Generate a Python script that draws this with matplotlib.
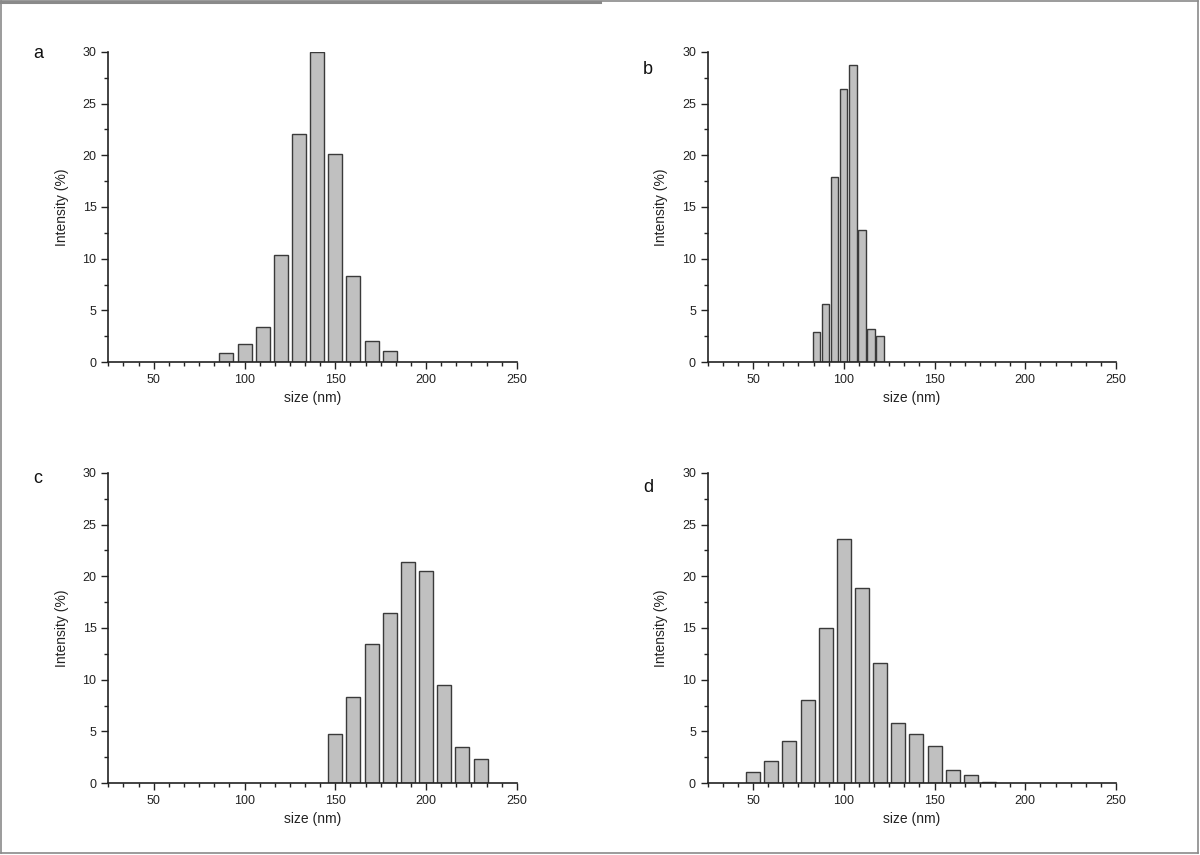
import matplotlib
matplotlib.use("Agg")
import matplotlib.pyplot as plt
from matplotlib.lines import Line2D
from matplotlib.ticker import MultipleLocator

plt.rcParams['font.family'] = ['Liberation Sans', 'DejaVu Sans']

# panel a
a_size = [90, 100, 110, 120, 130, 140, 150, 160, 170, 180]
a_intensity = [0.87, 1.71, 3.35, 10.35, 22.1, 30.0, 20.1, 8.29, 2.06, 1.03]

# panel b
b_size = [85, 90, 95, 100, 105, 110, 115, 120]
b_intensity = [2.9, 5.58, 17.9, 26.46, 28.78, 12.76, 3.22, 2.55]

# panel c
c_size = [150, 160, 170, 180, 190, 200, 210, 220, 230]
c_intensity = [4.78, 8.37, 13.48, 16.49, 21.37, 20.47, 9.47, 3.46, 2.33]

# panel d
d_size = [50, 60, 70, 80, 90, 100, 110, 120, 130, 140, 150, 160, 170, 180]
d_intensity = [1.03, 2.13, 4.04, 8.02, 15.03, 23.6, 18.9, 11.6, 5.85, 4.78,
               3.62, 1.23, 0.81, 0.13]

panels = [
    ('a', a_size, a_intensity, 7.7, [0.0903, 0.5766, 0.3404, 0.3626], (38, 53)),
    ('b', b_size, b_intensity, 4.0, [0.5898, 0.5766, 0.3402, 0.3626], (648, 70)),
    ('c', c_size, c_intensity, 7.7, [0.0903, 0.0842, 0.3404, 0.3626], (38, 478)),
    ('d', d_size, d_intensity, 7.7, [0.5898, 0.0842, 0.3402, 0.3626], (648, 487)),
]

W, H = 1200, 855
fig = plt.figure(figsize=(W / 100, H / 100), dpi=100)

for letter, sizes, vals, width, rect, (lx, ly) in panels:
    ax = fig.add_axes(rect)
    ax.bar(sizes, vals, width=width, color='#c0c0c0', edgecolor='#3a3a3a',
           linewidth=1.0, clip_on=True)
    ax.set_xlim(25, 250)
    ax.set_ylim(0, 30)
    ax.xaxis.set_major_locator(MultipleLocator(50))
    ax.xaxis.set_minor_locator(MultipleLocator(25 / 3))
    ax.yaxis.set_major_locator(MultipleLocator(5))
    ax.yaxis.set_minor_locator(MultipleLocator(2.5))
    ax.spines['top'].set_visible(False)
    ax.spines['right'].set_visible(False)
    for s in ('left', 'bottom'):
        ax.spines[s].set_linewidth(1.2)
        ax.spines[s].set_color('#222222')
    ax.tick_params(which='major', direction='out', length=5, width=1.0,
                   labelsize=9, color='#222222', labelcolor='#222222')
    ax.tick_params(which='minor', direction='out', length=3, width=1.0,
                   color='#222222')
    ax.set_xlabel('size (nm)', fontsize=10, color='#222222', labelpad=4)
    ax.set_ylabel('Intensity (%)', fontsize=10, color='#222222', labelpad=10)
    fig.text(lx / W, 1 - ly / H, letter, fontsize=13, ha='center',
             va='center', color='#111111')

# grey frame around the figure
frame = dict(color='#8a8a8a', linewidth=1.2, transform=fig.transFigure)
fig.add_artist(Line2D([0.001, 0.001], [0.002, 0.999], **frame))
fig.add_artist(Line2D([0.998, 0.998], [0.002, 0.999], **frame))
fig.add_artist(Line2D([0.001, 0.998], [0.002, 0.002], **frame))
fig.add_artist(Line2D([0.001, 0.998], [0.999, 0.999], **frame))
fig.add_artist(Line2D([0.001, 0.5], [0.998, 0.998], color='#8a8a8a',
                      linewidth=2.2, transform=fig.transFigure))

fig.savefig('out.png', dpi=100)
